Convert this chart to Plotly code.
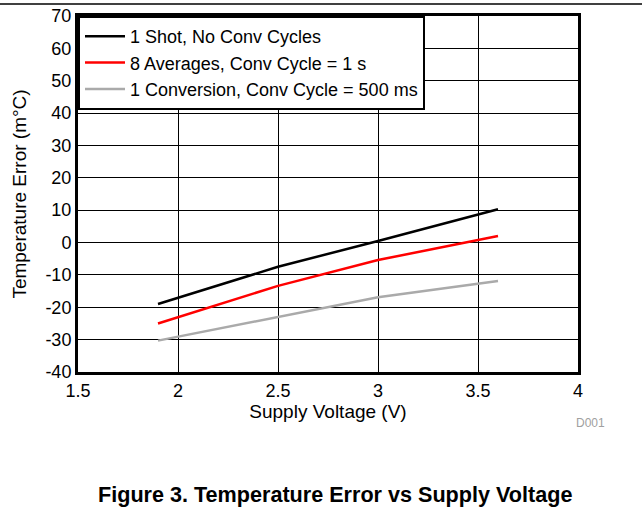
import plotly.graph_objects as go

voltage = [1.9, 2.5, 3.0, 3.6]
one_shot = [-19.0, -7.5, 0.5, 10.3]
eight_avg = [-25.0, -13.4, -5.4, 2.0]
one_conv = [-30.3, -22.9, -16.9, -11.9]

series_names = ["1 Shot, No Conv Cycles",
                "8 Averages, Conv Cycle = 1 s",
                "1 Conversion, Conv Cycle = 500 ms"]
series_colors = ["black", "red", "rgb(170,170,170)"]

x_ticks = [1.5, 2, 2.5, 3, 3.5, 4]
x_labels = ["1.5", "2", "2.5", "3", "3.5", "4"]
y_ticks = list(range(-40, 71, 10))
y_labels = [str(v) for v in y_ticks]

font = "Arial, Liberation Sans, sans-serif"

fig = go.Figure()
for name, ys, color in zip(series_names, [one_shot, eight_avg, one_conv], series_colors):
    fig.add_trace(go.Scatter(
        x=voltage, y=ys, name=name, mode="lines",
        line=dict(color=color, width=2.5)
    ))

fig.update_layout(
    width=642, height=508,
    margin=dict(l=78, r=64, t=16, b=136),
    paper_bgcolor="white",
    plot_bgcolor="white",
    font=dict(family=font, size=16, color="black"),
    showlegend=True,
    legend=dict(
        x=0, y=1, xanchor="left", yanchor="top",
        bgcolor="white", bordercolor="black", borderwidth=2,
        font=dict(size=18), tracegroupgap=0, itemwidth=40,
    ),
    xaxis=dict(
        range=[1.5, 4], tickvals=x_ticks, ticktext=x_labels,
        tickfont=dict(size=18),
        showgrid=True, gridcolor="black", gridwidth=1,
        showline=True, linecolor="black", linewidth=3, mirror=True,
        ticks="", zeroline=False, automargin=False,
        title=dict(text="Supply Voltage (V)", standoff=2),
    ),
    yaxis=dict(
        range=[-40, 70], tickvals=y_ticks, ticktext=y_labels,
        tickfont=dict(size=18),
        showgrid=True, gridcolor="black", gridwidth=1,
        showline=True, linecolor="black", linewidth=3, mirror=True,
        ticks="", zeroline=False, automargin=False,
        title=dict(text="Temperature Error (m°C)", standoff=14),
    ),
    # rule across the top of the page
    shapes=[dict(type="line", xref="paper", yref="paper",
                 x0=-78 / 500, x1=(642 - 78) / 500, y0=1 + 12 / 356, y1=1 + 12 / 356,
                 line=dict(color="black", width=1.5))],
    annotations=[
        dict(text="D001", xref="paper", yref="paper", x=(590 - 78) / 500, y=-(423 - 372) / 356,
             xanchor="center", yanchor="middle",
             showarrow=False, font=dict(size=12, color="rgb(160,160,160)")),
        dict(text="<b>Figure 3. Temperature Error vs Supply Voltage</b>", xref="paper", yref="paper",
             x=(335 - 78) / 500, y=-(495 - 372) / 356, xanchor="center", yanchor="middle",
             showarrow=False, font=dict(size=21.6, color="black")),
    ],
)

fig.write_html("out.html", config={"displayModeBar": False},
               post_script="document.body.style.margin = '0';")
